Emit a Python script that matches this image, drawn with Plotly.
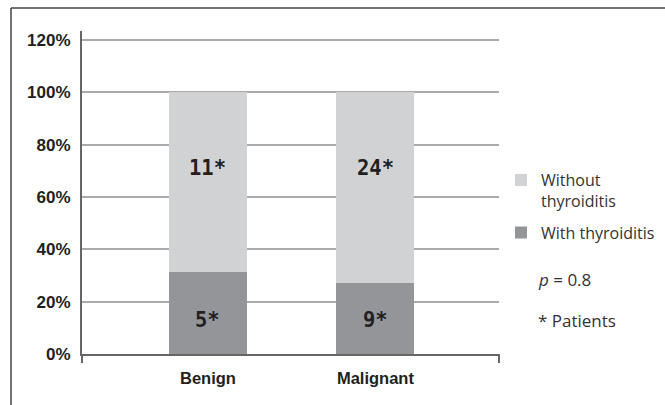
import plotly.graph_objects as go

categories = ["Benign", "Malignant"]
with_thyroiditis = [5, 9]
without_thyroiditis = [11, 24]
y_ticks = [0, 20, 40, 60, 80, 100, 120]
p_text = "<i>p</i> = 0.8"
note_text = "* Patients"

totals = [a + b for a, b in zip(with_thyroiditis, without_thyroiditis)]
pct_with = [a / t * 100 for a, t in zip(with_thyroiditis, totals)]
pct_without = [b / t * 100 for b, t in zip(without_thyroiditis, totals)]

W, H = 665, 405
L, R, T, B = 82, 166, 31, 51
pw, ph = W - L - R, H - T - B

DARK = "#939598"
LIGHT = "#d1d2d4"
TXT = "#231f20"
LEG_FONT = dict(family="Open Sans", size=16, color="#333333")

fig = go.Figure()
fig.add_trace(go.Bar(x=categories, y=pct_with, name="With thyroiditis",
                     marker=dict(color=DARK, line=dict(width=0)), width=0.466,
                     legendgroup="a", legendrank=2, hoverinfo="skip"))
fig.add_trace(go.Bar(x=categories, y=pct_without, name="Without<br>thyroiditis",
                     marker=dict(color=LIGHT, line=dict(width=0)), width=0.466,
                     legendgroup="b", legendrank=1, hoverinfo="skip"))

annotations = []
for c, a, b in zip(categories, with_thyroiditis, without_thyroiditis):
    annotations.append(dict(x=c, y=13, xref="x", yref="y", text=f"{a}*", showarrow=False,
                            font=dict(family="DejaVu Sans Mono", size=20.5, color=TXT, weight="bold")))
    annotations.append(dict(x=c, y=71, xref="x", yref="y", text=f"{b}*", showarrow=False,
                            font=dict(family="DejaVu Sans Mono", size=20.5, color=TXT, weight="bold")))

annotations.append(dict(x=(536 - L) / pw, y=(H - B - 279) / ph, xref="paper", yref="paper",
                        xanchor="left", yanchor="middle", text=p_text, showarrow=False,
                        font=dict(family="Open Sans", size=17, color="#333333")))
annotations.append(dict(x=(536 - L) / pw, y=(H - B - 320) / ph, xref="paper", yref="paper",
                        xanchor="left", yanchor="middle", text=note_text, showarrow=False,
                        font=dict(family="Open Sans", size=17, color="#333333")))

tick_len = 9 / ph
shapes = [
    # outer frame (top and left edges)
    dict(type="line", xref="paper", yref="paper", x0=(11 - L) / pw, x1=(W + 5 - L) / pw,
         y0=(H - B - 8) / ph, y1=(H - B - 8) / ph, line=dict(color="#444444", width=1.5)),
    dict(type="line", xref="paper", yref="paper", x0=(11 - L) / pw, x1=(11 - L) / pw,
         y0=(H - B - 8) / ph, y1=-(B + 5) / ph, line=dict(color="#444444", width=1.5)),
    # axis end ticks
    dict(type="line", xref="paper", yref="paper", x0=0, x1=0, y0=0, y1=-tick_len,
         line=dict(color="#666666", width=2)),
    dict(type="line", xref="paper", yref="paper", x0=1, x1=1, y0=0, y1=-tick_len,
         line=dict(color="#666666", width=2)),
]

fig.update_layout(
    width=W, height=H,
    margin=dict(l=L, r=R, t=T, b=B, autoexpand=False),
    paper_bgcolor="white", plot_bgcolor="white",
    barmode="stack", bargap=0,
    showlegend=True,
    legend=dict(x=(501 - L) / pw, y=(H - B - 163) / ph, xanchor="left", yanchor="top",
                font=LEG_FONT, valign="top", tracegroupgap=8, bgcolor="rgba(0,0,0,0)"),
    annotations=annotations,
    shapes=shapes,
    font=dict(family="Liberation Sans", color=TXT),
)
fig.update_xaxes(range=[-0.752, 1.738], showline=True, linecolor="#666666", linewidth=2,
                 ticks="", showgrid=False, zeroline=False,
                 tickfont=dict(family="Liberation Sans", size=16.5, color=TXT, weight="bold"),
                 ticklabelstandoff=8)
fig.update_yaxes(range=[0, 123.5], tickvals=y_ticks, ticktext=[f"{v}%" for v in y_ticks],
                 showline=True, linecolor="#666666", linewidth=2, ticks="",
                 showgrid=True, gridcolor="#aaaaaa", gridwidth=1.5, zeroline=False,
                 tickfont=dict(family="Liberation Sans", size=17, color=TXT, weight="bold"),
                 ticklabelstandoff=6)

fig.write_html("out.html")
